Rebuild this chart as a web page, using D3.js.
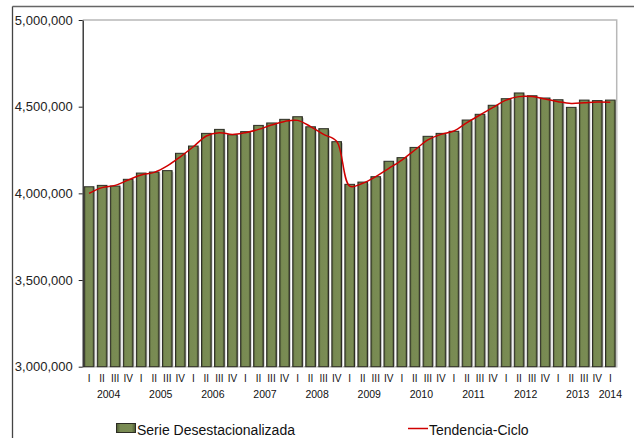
<!DOCTYPE html>
<html>
<head>
<meta charset="utf-8">
<script src="https://cdn.jsdelivr.net/npm/d3@7"></script>
<style>
  body { margin: 0; background: #fff; }
  svg { font-family: "Liberation Sans", Arial, sans-serif; }
</style>
</head>
<body>
<svg id="chart" width="634" height="438"></svg>
<script>
// quarterly data, 2004 I .. 2014 I
const years = [2004, 2005, 2006, 2007, 2008, 2009, 2010, 2011, 2012, 2013, 2014];
const quarterNames = ["I", "II", "III", "IV"];
const serie = [
    4038000, 4046000, 4042000, 4081000,
    4117000, 4123000, 4131000, 4231000,
    4273000, 4346000, 4369000, 4338000,
    4356000, 4392000, 4406000, 4427000,
    4442000, 4384000, 4373000, 4298000,
    4052000, 4065000, 4096000, 4185000,
    4206000, 4265000, 4329000, 4346000,
    4358000, 4423000, 4456000, 4508000,
    4546000, 4579000, 4563000, 4550000,
    4540000, 4496000, 4538000, 4535000,
    4538000
];
const tendencia = [
    4000000, 4033000, 4046000, 4077000,
    4106000, 4121000, 4158000, 4211000,
    4269000, 4331000, 4350000, 4340000,
    4350000, 4369000, 4394000, 4415000,
    4421000, 4385000, 4340000, 4300000,
    4042000, 4058000, 4096000, 4144000,
    4192000, 4250000, 4308000, 4340000,
    4360000, 4408000, 4452000, 4496000,
    4538000, 4558000, 4558000, 4544000,
    4529000, 4519000, 4523000, 4527000,
    4525000
];
const yTicks = [3000000, 3500000, 4000000, 4500000, 5000000];

const LEFT = 82.7, RIGHT = 616.7, TOP = 20, BOTTOM = 366.7;

const svg = d3.select("#chart");

// outer frame (only top and left edges visible)
svg.append("line").attr("x1", 12.5).attr("x2", 634).attr("y1", 6.5).attr("y2", 6.5)
    .attr("stroke", "#666").attr("stroke-width", 1.3);
svg.append("line").attr("x1", 12.5).attr("x2", 12.5).attr("y1", 6.5).attr("y2", 438)
    .attr("stroke", "#444").attr("stroke-width", 1.3);

const idx = d3.range(serie.length);
const quarterLabels = idx.map(i => quarterNames[i % 4]);

const x = d3.scaleBand().domain(idx).range([LEFT, RIGHT])
    .paddingInner(0.26).paddingOuter(0.12);
const y = d3.scaleLinear().domain([3000000, 5000000]).range([BOTTOM, TOP]);

// plot border (gray)
svg.append("path")
    .attr("d", `M${LEFT},${TOP}H${RIGHT}V${BOTTOM}H${LEFT}`)
    .attr("fill", "none").attr("stroke", "#b8b8b8").attr("stroke-width", 1.5);

// bar gradient: dark edges, olive centre
const defs = svg.append("defs");
const grad = defs.append("linearGradient").attr("id", "barGrad")
    .attr("x1", "0").attr("x2", "1").attr("y1", "0").attr("y2", "0");
grad.append("stop").attr("offset", "0").attr("stop-color", "#4e5a34");
grad.append("stop").attr("offset", "0.2").attr("stop-color", "#788a52");
grad.append("stop").attr("offset", "0.8").attr("stop-color", "#7a8c54");
grad.append("stop").attr("offset", "1").attr("stop-color", "#4a5530");

// light shadow to the right of each bar
svg.append("g").selectAll("rect")
    .data(idx)
    .join("rect")
    .attr("x", i => x(i) + 1.5)
    .attr("y", i => y(serie[i]) + 1.5)
    .attr("width", x.bandwidth())
    .attr("height", i => BOTTOM - y(serie[i]) - 1.5)
    .attr("fill", "#d0d0d0");

svg.append("g").selectAll("rect")
    .data(idx)
    .join("rect")
    .attr("x", i => x(i))
    .attr("y", i => y(serie[i]))
    .attr("width", x.bandwidth())
    .attr("height", i => BOTTOM - y(serie[i]))
    .attr("fill", "url(#barGrad)")
    .attr("stroke", "#2c2c24")
    .attr("stroke-width", 1);

// trend line
const line = d3.line()
    .x((d, i) => x(i) + x.bandwidth() / 2)
    .y(d => y(d))
    .curve(d3.curveCatmullRom.alpha(0.5));
svg.append("path")
    .datum(tendencia)
    .attr("d", line)
    .attr("fill", "none")
    .attr("stroke", "#d00000")
    .attr("stroke-width", 1.5);

// y axis
const yAxis = svg.append("g")
    .attr("transform", `translate(${LEFT},0)`)
    .call(d3.axisLeft(y).tickValues(yTicks).tickFormat(d3.format(",")).tickSize(4).tickPadding(6).tickSizeOuter(0));
yAxis.select(".domain").attr("stroke", "#222").attr("stroke-width", 1.3);
yAxis.selectAll(".tick line").attr("stroke", "#222");
yAxis.selectAll("text").attr("font-size", 13).attr("fill", "#222")
    .attr("font-family", "Liberation Sans, Arial, sans-serif");

// x axis: quarter labels
const xAxis = svg.append("g")
    .attr("transform", `translate(0,${BOTTOM})`)
    .call(d3.axisBottom(x).tickFormat(i => quarterLabels[i]).tickSize(0).tickPadding(8));
xAxis.select(".domain").remove();
xAxis.selectAll("text").attr("font-size", 10).attr("fill", "#111")
    .attr("font-family", "Liberation Sans, Arial, sans-serif");

// year labels centred under their quarters
svg.append("g").selectAll("text")
    .data(years)
    .join("text")
    .attr("x", (yr, k) => {
        const qs = idx.filter(i => Math.floor(i / 4) === k);
        return d3.mean(qs, i => x(i) + x.bandwidth() / 2);
    })
    .attr("y", 398)
    .attr("text-anchor", "middle")
    .attr("font-size", 10.5)
    .attr("fill", "#111")
    .text(d => d);

// legend
const legend = svg.append("g");
legend.append("rect").attr("x", 116.5).attr("y", 423.5).attr("width", 19).attr("height", 9)
    .attr("fill", "url(#barGrad)").attr("stroke", "#2c2c24");
legend.append("text").attr("x", 137).attr("y", 435).attr("font-size", 14).attr("fill", "#111")
    .text("Serie Desestacionalizada");
legend.append("line").attr("x1", 408).attr("x2", 428).attr("y1", 428.5).attr("y2", 428.5)
    .attr("stroke", "#d00000").attr("stroke-width", 1.5);
legend.append("text").attr("x", 429).attr("y", 435).attr("font-size", 14).attr("fill", "#111")
    .text("Tendencia-Ciclo");
</script>
</body>
</html>
